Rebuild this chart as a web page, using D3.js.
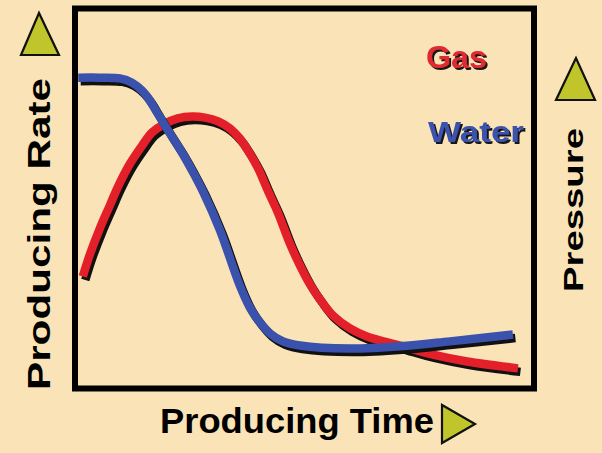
<!DOCTYPE html>
<html><head><meta charset="utf-8">
<script src="https://cdn.jsdelivr.net/npm/d3@7"></script>
<style>html,body{margin:0;padding:0;background:#fae3b6;}svg{display:block;}</style>
</head><body>
<script>
// Data (arbitrary units: time 0-10, rate 0-10)
const gasTime  = [0.17,0.33,0.54,0.76,0.94,1.20,1.46,1.68,1.96,2.24,2.55,2.83,3.12,3.38,3.59,3.81,3.99,4.20,4.42,4.68,4.90,5.12,5.34,5.62,5.99,6.36,7.08,7.80,8.54,9.65];
const gasRate  = [2.95,3.55,4.21,4.82,5.32,5.92,6.39,6.74,6.97,7.11,7.16,7.13,7.03,6.84,6.58,6.18,5.79,5.21,4.63,3.82,3.24,2.74,2.34,1.92,1.58,1.37,1.13,0.89,0.71,0.53];
const waterTime = [0.07,0.54,0.98,1.24,1.46,1.63,1.79,2.00,2.33,2.55,2.79,3.16,3.59,3.81,4.03,4.25,4.53,4.90,5.99,7.08,8.17,9.54];
const waterRate = [8.18,8.18,8.16,8.05,7.84,7.58,7.26,6.84,6.21,5.74,5.18,4.16,2.71,2.13,1.74,1.45,1.24,1.13,1.05,1.11,1.24,1.42];
const seriesNames = ["Gas","Water"];
const seriesColors = ["#e3202a","#3a52ac"];
const xLabel = "Producing Time";
const yLabel = "Producing Rate";
const y2Label = "Pressure";

const W = 602, H = 453;
const svg = d3.select("body").append("svg").attr("width", W).attr("height", H);
svg.append("rect").attr("width", W).attr("height", H).attr("fill", "#fae3b6");

const defs = svg.append("defs");
const f = defs.append("filter").attr("id","tshadow").attr("x","-10%").attr("y","-20%").attr("width","130%").attr("height","150%");
f.append("feDropShadow").attr("dx",2).attr("dy",2).attr("stdDeviation",0.6)
  .attr("flood-color","#151515").attr("flood-opacity",1);

const plot = {left: 75, right: 534, top: 8.5, bottom: 388.5};
const x = d3.scaleLinear().domain([0, 10]).range([plot.left, plot.right]);
const y = d3.scaleLinear().domain([0, 10]).range([plot.bottom, plot.top]);

const font = "'Liberation Sans', Arial, Helvetica, sans-serif";

const series = [
  {name: seriesNames[0], color: seriesColors[0], pts: gasTime.map((t,i)=>[t, gasRate[i]])},
  {name: seriesNames[1], color: seriesColors[1], pts: waterTime.map((t,i)=>[t, waterRate[i]])}
];
const line = d3.line().x(d=>x(d[0])).y(d=>y(d[1])).curve(d3.curveCatmullRom.alpha(0.5));

// each curve: black shadow then coloured stroke (water on top)
series.forEach(s => {
  svg.append("path").attr("d", line(s.pts)).attr("fill","none")
    .attr("stroke","#111").attr("stroke-width",8.5).attr("transform","translate(2.5,3.5)");
  svg.append("path").attr("d", line(s.pts)).attr("fill","none")
    .attr("stroke",s.color).attr("stroke-width",8.5);
});

// frame
svg.append("rect").attr("x", plot.left).attr("y", plot.top)
  .attr("width", plot.right-plot.left).attr("height", plot.bottom-plot.top)
  .attr("fill","none").attr("stroke","#000").attr("stroke-width",6);

// legend labels with shadow
function shadowText(txt, tx, ty, size, len, color){
  svg.append("text").attr("x",tx).attr("y",ty).text(txt)
    .attr("font-family",font).attr("font-weight","bold").attr("font-size",size)
    .attr("fill",color).attr("textLength",len).attr("lengthAdjust","spacingAndGlyphs")
    .attr("filter","url(#tshadow)");
}
shadowText(seriesNames[0], 426, 68, 31, 61, "#e02a33");
shadowText(seriesNames[1], 428, 142, 30, 96, "#3a52ac");

// axis labels
svg.append("text").text(xLabel).attr("x",160).attr("y",433)
  .attr("font-family",font).attr("font-weight","bold").attr("font-size",35)
  .attr("textLength",274).attr("lengthAdjust","spacingAndGlyphs").attr("fill","#000");
svg.append("text").text(yLabel).attr("transform","translate(50,234) rotate(-90)")
  .attr("text-anchor","middle")
  .attr("font-family",font).attr("font-weight","bold").attr("font-size",32)
  .attr("textLength",312).attr("lengthAdjust","spacingAndGlyphs").attr("fill","#000");
svg.append("text").text(y2Label).attr("transform","translate(583,210) rotate(-90)")
  .attr("text-anchor","middle")
  .attr("font-family",font).attr("font-weight","bold").attr("font-size",28)
  .attr("textLength",164).attr("lengthAdjust","spacingAndGlyphs").attr("fill","#000");

// triangles
const triFill = "#c0c52b";
const tri = (pts) => svg.append("path").attr("d", d3.line()(pts) + "Z")
  .attr("fill",triFill).attr("stroke","#111").attr("stroke-width",2.2).attr("stroke-linejoin","miter");
tri([[39,13],[21,55],[59,55]]);
tri([[576,58],[556,100],[595,100]]);
tri([[442,405],[442,443],[475,424]]);
</script>
</body></html>
